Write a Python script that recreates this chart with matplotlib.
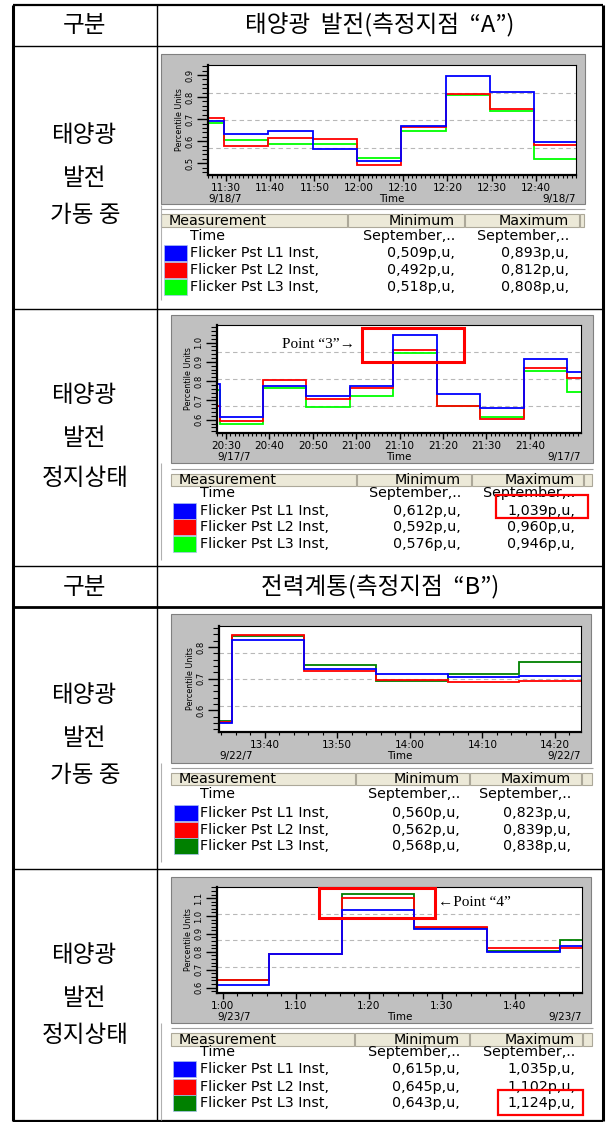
import matplotlib
matplotlib.use("Agg")
import matplotlib.pyplot as plt
import numpy as np
from matplotlib.patches import Rectangle
from matplotlib.ticker import MultipleLocator

W, H = 607, 1122
KR = ['Noto Sans CJK KR', 'DejaVu Sans']
SERIF = ['Liberation Serif', 'DejaVu Serif']


def tm(h, m):
    # minutes since midnight
    return h * 60 + m


names = ['Flicker Pst L1 Inst,', 'Flicker Pst L2 Inst,', 'Flicker Pst L3 Inst,']
headers = ['태양광  발전(측정지점  “A”)', '전력계통(측정지점  “B”)']
row_labels = [['태양광', '발전', '가동 중'], ['태양광', '발전', '정지상태'],
              ['태양광', '발전', '가동 중'], ['태양광', '발전', '정지상태']]

# point A, solar running (9/18/7)
a_run_edges = [tm(11, 26), tm(11, 29.6), tm(11, 39.6), tm(11, 49.6), tm(11, 59.6),
               tm(12, 9.6), tm(12, 19.6), tm(12, 29.6), tm(12, 39.6), tm(12, 49)]
a_run_l1 = [0.690, 0.631, 0.646, 0.566, 0.509, 0.669, 0.893, 0.823, 0.595]
a_run_l2 = [0.704, 0.577, 0.613, 0.609, 0.492, 0.666, 0.812, 0.748, 0.582]
a_run_l3 = [0.681, 0.604, 0.589, 0.589, 0.522, 0.648, 0.808, 0.735, 0.518]
a_run_ticks = [tm(11, 30), tm(11, 40), tm(11, 50), tm(12, 0), tm(12, 10), tm(12, 20), tm(12, 30), tm(12, 40)]
a_run_labels = ['11:30', '11:40', '11:50', '12:00', '12:10', '12:20', '12:30', '12:40']
a_run_min = ['0,509p,u,', '0,492p,u,', '0,518p,u,']
a_run_max = ['0,893p,u,', '0,812p,u,', '0,808p,u,']

# point A, solar stopped (9/17/7)
a_stop_edges = [tm(20, 27.9), tm(20, 28.5), tm(20, 38.5), tm(20, 48.5), tm(20, 58.5), tm(21, 8.5),
                tm(21, 18.5), tm(21, 28.5), tm(21, 38.6), tm(21, 48.6), tm(21, 51.8)]
a_stop_l1 = [0.786, 0.612, 0.776, 0.721, 0.776, 1.039, 0.734, 0.659, 0.917, 0.848]
a_stop_l2 = [0.669, 0.592, 0.807, 0.707, 0.762, 0.960, 0.669, 0.603, 0.866, 0.814]
a_stop_l3 = [0.755, 0.576, 0.764, 0.667, 0.722, 0.946, 0.671, 0.614, 0.850, 0.745]
a_stop_ticks = [tm(20, 30), tm(20, 40), tm(20, 50), tm(21, 0), tm(21, 10), tm(21, 20), tm(21, 30), tm(21, 40)]
a_stop_labels = ['20:30', '20:40', '20:50', '21:00', '21:10', '21:20', '21:30', '21:40']
a_stop_min = ['0,612p,u,', '0,592p,u,', '0,576p,u,']
a_stop_max = ['1,039p,u,', '0,960p,u,', '0,946p,u,']

# point B, solar running (9/22/7)
b_run_edges = [tm(13, 33.7), tm(13, 35.5), tm(13, 45.4), tm(13, 55.4), tm(14, 5.2), tm(14, 15.1), tm(14, 23.6)]
b_run_l1 = [0.560, 0.823, 0.731, 0.716, 0.705, 0.709]
b_run_l2 = [0.562, 0.839, 0.725, 0.696, 0.691, 0.694]
b_run_l3 = [0.568, 0.836, 0.744, 0.692, 0.716, 0.751]
b_run_ticks = [tm(13, 40), tm(13, 50), tm(14, 0), tm(14, 10), tm(14, 20)]
b_run_labels = ['13:40', '13:50', '14:00', '14:10', '14:20']
b_run_min = ['0,560p,u,', '0,562p,u,', '0,568p,u,']
b_run_max = ['0,823p,u,', '0,839p,u,', '0,838p,u,']

# point B, solar stopped (9/23/7)
b_stop_edges = [tm(0, 59.2), tm(1, 6.3), tm(1, 16.3), tm(1, 26.2), tm(1, 36.2), tm(1, 46.2), tm(1, 49.2)]
b_stop_l1 = [0.615, 0.787, 1.035, 0.930, 0.800, 0.832]
b_stop_l2 = [0.645, 0.787, 1.102, 0.941, 0.819, 0.819]
b_stop_l3 = [0.643, 0.787, 1.124, 0.935, 0.806, 0.868]
b_stop_ticks = [tm(1, 0), tm(1, 10), tm(1, 20), tm(1, 30), tm(1, 40)]
b_stop_labels = ['1:00', '1:10', '1:20', '1:30', '1:40']
b_stop_min = ['0,615p,u,', '0,645p,u,', '0,643p,u,']
b_stop_max = ['1,035p,u,', '1,102p,u,', '1,124p,u,']

light = ['#0000ff', '#ff0000', '#00ff00']
dark = ['#0000ff', '#ff0000', '#008000']

panels = [
    dict(edges=a_run_edges, series=[a_run_l1, a_run_l2, a_run_l3], colors=light,
         ticks=a_run_ticks, labels=a_run_labels, date='9/18/7', mins=a_run_min, maxs=a_run_max,
         yticks=[0.5, 0.6, 0.7, 0.8, 0.9], ylim=(0.447, 0.945), xminor=1,
         frame=(161, 54, 585, 204), plot=(208, 65, 576, 175),
         hdr=(214, 227), cols=[161, 348, 465, 580, 585], rows=[236, 253, 270, 287],
         sw=(164, 187), txt=190, min_r=455, max_r=569, left=(205, 300)),
    dict(edges=a_stop_edges, series=[a_stop_l1, a_stop_l2, a_stop_l3], colors=light,
         ticks=a_stop_ticks, labels=a_stop_labels, date='9/17/7', mins=a_stop_min, maxs=a_stop_max,
         yticks=[0.6, 0.7, 0.8, 0.9, 1.0], ylim=(0.531, 1.091), xminor=1,
         frame=(171, 315, 593, 463), plot=(217, 325, 581, 433),
         hdr=(474, 486), cols=[171, 357, 472, 584, 593], rows=[493, 511, 527, 544],
         sw=(173, 196), txt=200, min_r=461, max_r=575, left=(463, 560)),
    dict(edges=b_run_edges, series=[b_run_l1, b_run_l2, b_run_l3], colors=dark,
         ticks=b_run_ticks, labels=b_run_labels, date='9/22/7', mins=b_run_min, maxs=b_run_max,
         yticks=[0.6, 0.7, 0.8], ylim=(0.532, 0.866), xminor=2,
         frame=(171, 614, 591, 763), plot=(219, 626, 581, 732),
         hdr=(773, 785), cols=[171, 356, 470, 582, 593], rows=[794, 813, 830, 846],
         sw=(174, 198), txt=200, min_r=460, max_r=571, left=(763, 862)),
    dict(edges=b_stop_edges, series=[b_stop_l1, b_stop_l2, b_stop_l3], colors=dark,
         ticks=b_stop_ticks, labels=b_stop_labels, date='9/23/7', mins=b_stop_min, maxs=b_stop_max,
         yticks=[0.6, 0.7, 0.8, 0.9, 1.0, 1.1], ylim=(0.570, 1.162), xminor=2,
         frame=(171, 877, 591, 1023), plot=(217, 887, 582, 993),
         hdr=(1033, 1046), cols=[171, 355, 470, 583, 593], rows=[1052, 1069, 1087, 1103],
         sw=(173, 196), txt=200, min_r=460, max_r=575, left=(1023, 1120)),
]

fig = plt.figure(figsize=(W / 100, H / 100), dpi=100)
bg = fig.add_axes([0, 0, 1, 1])
bg.set_xlim(0, W)
bg.set_ylim(H, 0)
bg.axis('off')


def px_axes(box):
    x0, y0, x1, y1 = box
    return fig.add_axes([x0 / W, 1 - y1 / H, (x1 - x0) / W, (y1 - y0) / H])


# outer table grid
bg.vlines([13, 603], 5, 1121, color='black', lw=2.2)
bg.vlines(157, 5, 1121, color='black', lw=1.0)
bg.hlines([5, 1121], 13, 603, color='black', lw=1.6)
bg.hlines([46, 309, 566, 869], 13, 603, color='black', lw=1.0)
bg.hlines(607, 13, 603, color='black', lw=2.0)

for yc, title in zip([25, 587], headers):
    bg.text(85, yc, '구분', family=KR, fontsize=17, ha='center', va='center')
    bg.text(380, yc, title, family=KR, fontsize=17, ha='center', va='center')

label_ys = [(135, 178, 215), (395, 438, 478), (695, 738, 775), (955, 998, 1035)]
for lines, ys in zip(row_labels, label_ys):
    for s, y in zip(lines, ys):
        bg.text(85, y, s, family=KR, fontsize=17, ha='center', va='center')

fs = 10.3
for p in panels:
    # window frame + legend table
    fx0, fy0, fx1, fy1 = p['frame']
    bg.add_patch(Rectangle((fx0, fy0), fx1 - fx0, fy1 - fy0, fc='#c0c0c0', ec='#808080', lw=0.8))
    bg.vlines(161, p['left'][0], p['left'][1], color='#b0b0b0', lw=0.8)
    ht, hb = p['hdr']
    bg.hlines(ht - 5, p['cols'][0], p['cols'][-1], color='#a0a0a0', lw=0.8)
    cols = p['cols']
    for i in range(len(cols) - 1):
        bg.add_patch(Rectangle((cols[i], ht), cols[i + 1] - cols[i] - 1, hb - ht,
                               fc='#ece9d8', ec='#aca899', lw=0.8))
    hy = (ht + hb) / 2
    bg.text(cols[0] + 8, hy, 'Measurement', fontsize=fs, va='center')
    bg.text(p['min_r'], hy, 'Minimum', fontsize=fs, va='center', ha='right')
    bg.text(p['max_r'], hy, 'Maximum', fontsize=fs, va='center', ha='right')
    rows = p['rows']
    bg.text(p['txt'], rows[0], 'Time', fontsize=fs, va='center')
    bg.text(p['min_r'], rows[0], 'September,..', fontsize=fs, va='center', ha='right')
    bg.text(p['max_r'], rows[0], 'September,..', fontsize=fs, va='center', ha='right')
    for k in range(3):
        y = rows[k + 1]
        sx0, sx1 = p['sw']
        bg.add_patch(Rectangle((sx0, y - 8), sx1 - sx0, 16, fc=p['colors'][k], ec='#a8c0f0', lw=0.5))
        bg.text(p['txt'], y, names[k], fontsize=fs, va='center')
        bg.text(p['min_r'], y, p['mins'][k], fontsize=fs, va='center', ha='right')
        bg.text(p['max_r'], y, p['maxs'][k], fontsize=fs, va='center', ha='right')

    # the chart
    ax = px_axes(p['plot'])
    for vals, c in reversed(list(zip(p['series'], p['colors']))):
        ax.stairs(vals, p['edges'], color=c, lw=1.3, baseline=None)
    ax.set_xlim(p['edges'][0], p['edges'][-1])
    ax.set_ylim(p['ylim'])
    for f in (0.25, 0.5, 0.75):
        ax.plot([0, 1], [f, f], transform=ax.transAxes, color='#b8b8b8', lw=0.8,
                ls=(0, (4, 3)), zorder=0)
    ax.set_xticks(p['ticks'], p['labels'], fontsize=7.5)
    ax.set_yticks(p['yticks'], ['%.1f' % v for v in p['yticks']], fontsize=6,
                  rotation=90, va='center')
    ax.xaxis.set_minor_locator(MultipleLocator(p['xminor']))
    ax.yaxis.set_minor_locator(MultipleLocator(0.02))
    ax.tick_params(axis='x', which='major', length=4, width=1.0, pad=1.5)
    ax.tick_params(axis='x', which='minor', length=2.5, width=0.8)
    ax.tick_params(axis='y', which='major', length=8, width=1.0, pad=2)
    ax.tick_params(axis='y', which='minor', length=4.5, width=0.8)
    for side in ('left', 'bottom'):
        ax.spines[side].set_linewidth(1.6)
    for side in ('top', 'right'):
        ax.spines[side].set_linewidth(0.8)
    ax.set_ylabel('Percentile Units', fontsize=5.8, labelpad=1)
    for xf, ha, s in ((0, 'left', p['date']), (0.5, 'center', 'Time'), (1, 'right', p['date'])):
        ax.annotate(s, (xf, 0), xycoords='axes fraction', xytext=(0, -24),
                    textcoords='offset pixels', ha=ha, va='center', fontsize=7.5)

# annotations on top
top = fig.add_axes([0, 0, 1, 1], zorder=10)
top.set_xlim(0, W)
top.set_ylim(H, 0)
top.axis('off')
top.patch.set_alpha(0)
top.add_patch(Rectangle((362, 328), 102, 34, fill=False, ec='#ff0000', lw=2.2))
top.text(318, 344, 'Point “3”→', family=SERIF, fontsize=11, ha='center', va='center')
top.add_patch(Rectangle((496, 495), 92, 23, fill=False, ec='#ff0000', lw=1.6))
top.add_patch(Rectangle((319, 888), 116, 30, fill=False, ec='#ff0000', lw=2.2))
top.text(474, 902, '←Point “4”', family=SERIF, fontsize=11, ha='center', va='center')
top.add_patch(Rectangle((498, 1090), 85, 25, fill=False, ec='#ff0000', lw=1.6))

fig.savefig('out.png', dpi=100)
